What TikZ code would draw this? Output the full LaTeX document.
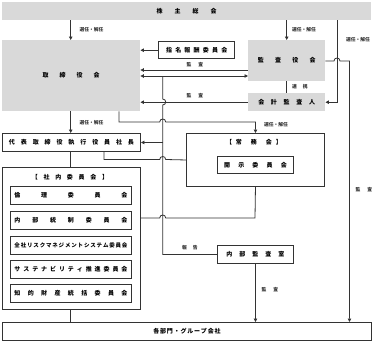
\documentclass[tikz,border=0pt]{standalone}
\usepackage{fontspec}
\setmainfont{Noto Sans CJK JP}
\usetikzlibrary{arrows.meta}
\def\jspC#1{\ifx\relax#1\else #1\expandafter\jspD\fi}
\def\jspD#1{\ifx\relax#1\else\jsep #1\expandafter\jspD\fi}
\newcommand\spc[2]{\def\jsep{\hspace{#1}}\jspC#2\relax}
\newcommand\jfill[2]{\makebox[#1][s]{\spc{0pt plus 1fill}{#2}}}
\definecolor{boxgray}{HTML}{D9D9D9}
\definecolor{ln}{HTML}{333333}
\begin{document}
\begin{tikzpicture}[x=1pt,y=-1pt,
  gbox/.style={fill=boxgray, draw=none, anchor=north west, inner sep=0pt, font=\fontsize{6}{7}\selectfont\bfseries},
  wbox/.style={fill=white, draw=ln, line width=0.95pt, anchor=north west, inner sep=0pt, font=\fontsize{6}{7}\selectfont\bfseries},
  ttl/.style={inner sep=0pt, font=\fontsize{6}{7}\selectfont\bfseries},
  lab/.style={inner sep=0pt, font=\fontsize{4.8}{5}\selectfont\bfseries, text=black!80},
  conn/.style={draw=ln, line width=0.8pt},
  arr/.style={conn, -{Triangle[length=3.5pt,width=3.5pt]}},
  darr/.style={conn, {Triangle[length=3.5pt,width=3.5pt]}-{Triangle[length=3.5pt,width=3.5pt]}}
]
\useasboundingbox (0,0) rectangle (373,341);
% x positions
\coordinate (cA) at (70.7,0);
\coordinate (cB) at (119,0);
\coordinate (cC) at (104,0);
\coordinate (cV) at (162.7,0);
\coordinate (cR1) at (337,0);
\coordinate (cR2) at (349.5,0);
\coordinate (y70) at (0,70);
\coordinate (y76) at (0,76);
\coordinate (y61) at (0,61);
\coordinate (y218) at (0,218);

% boxes
\node[gbox, minimum width=369pt, minimum height=18pt] (kabu) at (2,2) {\spc{12pt}{株主総会}};
\node[gbox, minimum width=138pt, minimum height=71pt] (tori) at (2,40) {\spc{11pt}{取締役会}};
\node[wbox, line width=1.4pt, minimum width=76pt, minimum height=17pt] (shimei) at (158,41) {\spc{3.2pt}{指名報酬委員会}};
\node[gbox, minimum width=77pt, minimum height=41pt] (kansa) at (248,40) {\spc{11.3pt}{監査役会}};
\node[gbox, minimum width=77pt, minimum height=18pt] (kaikei) at (248,93) {\spc{6.7pt}{会計監査人}};
\node[wbox, minimum width=138pt, minimum height=18pt] (daihyo) at (2,133) {\spc{5.9pt}{代表取締役執行役員社長}};
\node[wbox, minimum width=138pt, minimum height=53pt] (jomu) at (186,133) {};
\node[ttl] (jomut) at (254,142) {【\hspace{4pt}常\hspace{9pt}務\hspace{9pt}会\hspace{4pt}】};
\node[wbox, minimum width=76pt, minimum height=17pt] (kaiji) at (217,156) {\spc{8.2pt}{開示委員会}};
\node[wbox, minimum width=138pt, minimum height=142pt] (shanai) at (2,167) {};
\node[ttl] (shanait) at (70,177) {\spc{5.7pt}{【社内委員会】}};
\node[wbox, minimum width=121pt, minimum height=18pt] (rinri) at (10,186) {\jfill{113pt}{倫理委員会}};
\node[wbox, minimum width=121pt, minimum height=18pt] (naibu) at (10,211) {\jfill{113pt}{内部統制委員会}};
\node[wbox, minimum width=121pt, minimum height=18pt, font=\fontsize{5.5}{6}\selectfont\bfseries] (risk) at (10,236) {\jfill{113pt}{全社リスクマネジメントシステム委員会}};
\node[wbox, minimum width=121pt, minimum height=18pt] (sus) at (10,260) {\jfill{113pt}{サステナビリティ推進委員会}};
\node[wbox, minimum width=121pt, minimum height=18pt] (chiteki) at (10,284) {\jfill{113pt}{知的財産統括委員会}};
\node[wbox, minimum width=76pt, minimum height=18pt] (naikan) at (217,245) {\spc{7pt}{内部監査室}};
\node[wbox, minimum width=369pt, minimum height=18pt] (kakubu) at (2,322) {\spc{0.8pt}{各部門・グループ会社}};

% connectors
\draw[arr] (kabu.south -| cA) -- (tori.north -| cA);
\draw[arr] (kabu.south -| kansa.north) -- (kansa.north);
\draw[arr] (kabu.south -| cR1) |- (kaikei.east);
\draw[arr] (shimei.west) -- (shimei.west -| tori.east);
\draw[arr] (kansa.west |- y70) -- (tori.east |- y70);
\draw[darr] (tori.east |- y76) -- (kansa.west |- y76);
\draw[conn] (kansa.south) -- (kaikei.north);
\draw[arr] (kaikei.west) -- (kaikei.west -| tori.east);
\draw[arr] (kansa.east |- y61) -- (334,61) .. controls (334,57) and (340,57) .. (340,61) -- (349.5,61) -- (kakubu.north -| cR2);
\draw[conn] (cV |- y76) -- (162.7,99) .. controls (166.7,99) and (166.7,105) .. (162.7,105) |- (naikan.west);
\draw[arr] (cV |- daihyo.east) -- (daihyo.east);
\draw[arr] (tori.south -| cA) -- (daihyo.north -| cA);
\draw[arr] (tori.south -| cB) -- (119,122) -- (159.7,122) .. controls (159.7,118) and (165.7,118) .. (165.7,122) -| (jomu.north);
\draw[conn] (daihyo.south -| cC) -- (104,159.5) -- (159.7,159.5) .. controls (159.7,155.5) and (165.7,155.5) .. (165.7,159.5) -- (jomu.west);
\draw[conn] (jomu.south) -- (255,218) -- (165.7,218) .. controls (165.7,214) and (159.7,214) .. (159.7,218) -- (shanai.east |- y218);
\draw[conn] (daihyo.south -| cA) -- (shanai.north -| cA);
\draw[conn] (shanai.south -| cA) -- (kakubu.north -| cA);
\draw[arr] (naikan.south) -- (kakubu.north -| naikan.south);

% labels
\node[lab] (l1) at (91.5,30) {選任・解任};
\node[lab] (l2) at (304,29.5) {選任・解任};
\node[lab] (l3) at (358,39.5) {選任・解任};
\node[lab] (l4) at (195,65) {監\hspace{7pt}査};
\node[lab] (l5) at (195,96) {監\hspace{7pt}査};
\node[lab] (l6) at (300,87) {連\hspace{6pt}携};
\node[lab] (l7) at (91.5,123) {選任・解任};
\node[lab] (l8) at (276,125) {選任・解任};
\node[lab] (l9) at (364,190) {監\hspace{7pt}査};
\node[lab] (l10) at (190,248) {報\hspace{6pt}告};
\node[lab] (l11) at (270,290) {監\hspace{7pt}査};
\end{tikzpicture}
\end{document}
